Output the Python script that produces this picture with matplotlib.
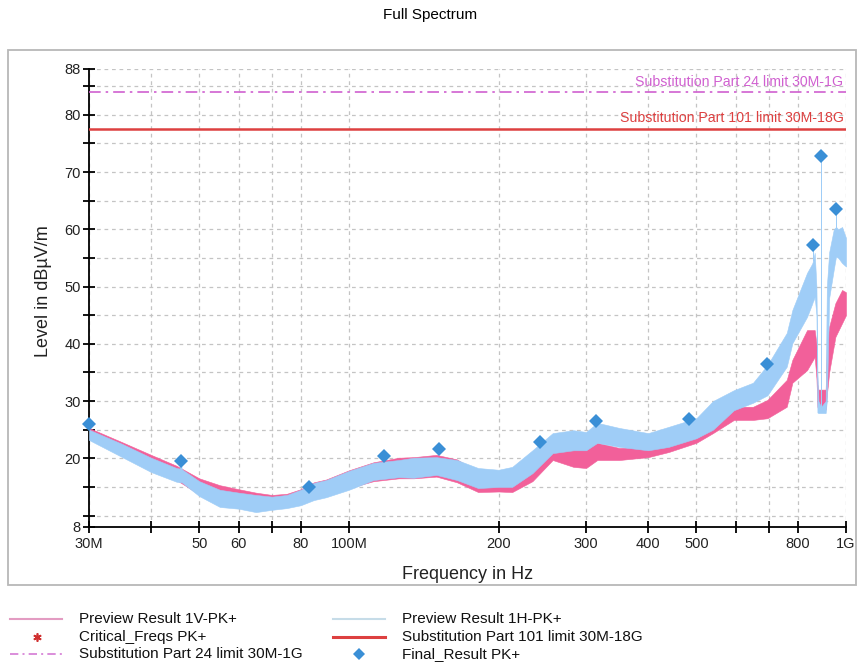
import matplotlib
matplotlib.use("Agg")
import matplotlib.pyplot as plt
from matplotlib.lines import Line2D
from matplotlib.patches import Rectangle
from matplotlib.ticker import FixedLocator, NullFormatter, NullLocator

plt.rcParams["font.family"] = ["Liberation Sans", "DejaVu Sans"]

# ---- measurement data (frequency in MHz, level in dBuV/m) ----
freq_h = [30, 35, 40, 45, 45.7, 45.9, 46.1, 50, 55, 60, 65, 70, 75, 80, 85, 90,
          100, 112, 126, 135, 150, 165, 182, 200, 213, 234, 257, 283, 300, 316,
          350, 400, 440, 500, 540, 595, 650, 695, 760, 780, 835, 855, 858.5,
          859, 859.5, 865, 872, 876, 880, 890.5, 891, 891.5, 910, 915, 925,
          945, 954.5, 955, 955.5, 965, 982, 1000]
h_high = [25.0, 22.5, 20.1, 18.3, 18.2, 19.5, 18.1, 16.0, 14.5, 14.0, 13.6, 13.3,
          13.6, 14.5, 15.7, 16.2, 17.8, 19.2, 19.7, 20.1, 20.2, 19.7, 18.3, 18.0,
          18.5, 21.4, 24.4, 24.9, 24.6, 26.2, 25.3, 24.4, 25.5, 27.0, 30.0, 31.9,
          33.2, 36.3, 41.9, 45.9, 52.4, 54.0, 54.5, 57.3, 54.5, 55.9, 50.0, 35.0,
          30.0, 29.0, 72.8, 29.0, 30.0, 50.0, 56.0, 60.0, 60.4, 63.5, 60.4, 60.0,
          60.4, 58.5]
h_low = [23.2, 20.2, 17.6, 15.9, 15.8, 15.8, 15.8, 13.4, 11.5, 11.2, 10.6, 11.0,
         11.3, 11.8, 12.7, 13.2, 14.5, 16.2, 16.7, 16.6, 17.1, 16.2, 14.8, 15.0,
         15.0, 17.4, 20.9, 21.4, 21.4, 22.7, 22.0, 21.4, 22.0, 23.5, 25.0, 28.4,
         29.7, 31.0, 36.0, 40.1, 44.7, 47.0, 47.5, 47.5, 47.5, 48.2, 45.0, 28.0,
         27.9, 27.9, 27.9, 27.9, 27.9, 30.0, 48.0, 53.0, 55.2, 55.2, 55.2, 55.0,
         54.1, 53.5]

freq_v = [30, 35, 40, 45, 50, 55, 60, 65, 70, 75, 80, 85, 90, 100, 112, 126, 135,
          150, 165, 182, 200, 213, 234, 257, 283, 300, 316, 350, 400, 440, 500,
          540, 595, 650, 695, 760, 780, 835, 865, 872, 876, 880, 910, 915, 925,
          952, 982, 1000]
v_high = [25.3, 22.8, 20.6, 18.7, 16.5, 15.3, 14.6, 14.0, 13.6, 13.8, 14.6, 15.8,
          16.3, 17.9, 19.3, 20.1, 20.2, 20.6, 19.8, 17.5, 17.5, 17.5, 19.5, 22.0,
          22.0, 22.0, 22.7, 21.8, 22.0, 23.2, 24.4, 27.2, 29.0, 29.0, 30.2, 33.7,
          37.2, 42.4, 42.4, 40.0, 33.0, 32.0, 32.0, 40.0, 43.0, 47.1, 49.4, 49.0]
v_low = [23.5, 20.5, 17.9, 16.2, 13.7, 11.8, 11.5, 11.0, 11.3, 11.6, 12.1, 13.0,
         13.5, 14.8, 16.0, 16.5, 16.5, 16.8, 15.8, 14.1, 14.2, 14.1, 16.0, 19.7,
         18.5, 18.3, 19.7, 19.7, 20.2, 21.1, 22.7, 24.4, 26.7, 26.7, 27.0, 29.0,
         33.2, 35.4, 37.7, 34.0, 29.0, 28.5, 28.5, 31.0, 35.0, 41.2, 43.6, 45.0]

final_freq = [30, 45.9, 83.1, 117.7, 151.8, 242, 314, 483, 694, 859, 891, 955]
final_level = [26.0, 19.5, 15.0, 20.4, 21.6, 22.8, 26.5, 26.9, 36.5, 57.3, 72.8, 63.5]

limit_part24 = 84.0
limit_part101 = 77.5
limit_start, limit_stop = 30, 1000

x_ticks = [30, 40, 50, 60, 70, 80, 100, 200, 300, 400, 500, 600, 700, 800, 1000]
x_labels = ["30M", "", "50", "60", "", "80", "100M", "200", "300", "400", "500",
            "", "", "800", "1G"]
y_major = [8, 20, 30, 40, 50, 60, 70, 80, 88]
y_minor = [10, 15, 25, 35, 45, 55, 65, 75, 85]

# ---- colours ----
c_v = "#f2609a"
c_h = "#9fcdf7"
c_final = "#3a8fd6"
c_p101 = "#dd4040"
c_p24 = "#d060d0"
c_grid = "#c4c4c4"

W, H = 858, 666
fig = plt.figure(figsize=(W / 100, H / 100), dpi=100)
ax = fig.add_axes([89 / W, 1 - 527 / H, (846 - 89) / W, (527 - 69) / H])

# outer panel frame
fig.add_artist(Rectangle((8 / W, 1 - 585 / H), (856 - 8) / W, (585 - 50) / H,
                         transform=fig.transFigure, fill=False,
                         edgecolor="#b8b8b8", linewidth=1.3))

ax.set_xscale("log")
ax.set_xlim(30, 1000)
ax.set_ylim(8, 88)

# spectrum traces
ax.fill_between(freq_v, v_low, v_high, color=c_v, linewidth=0.4, zorder=2)
ax.fill_between(freq_h, h_low, h_high, color=c_h, linewidth=0.4, zorder=3)

# limit lines
ax.plot([limit_start, limit_stop], [limit_part24] * 2, color=c_p24,
        linewidth=1.2, dashes=(7, 3, 1.5, 3), zorder=4)
ax.plot([limit_start, limit_stop], [limit_part101] * 2, color=c_p101,
        linewidth=1.8, zorder=4)
ax.text(988, limit_part24 + 0.5, "Substitution Part 24 limit 30M-1G",
        color=c_p24, fontsize=10.2, ha="right", va="bottom", zorder=5)
ax.text(988, limit_part101 + 0.7, "Substitution Part 101 limit 30M-18G",
        color=c_p101, fontsize=10.2, ha="right", va="bottom", zorder=5)

# final results
ax.plot(final_freq, final_level, linestyle="none", marker="D", markersize=7.5,
        color=c_final, markeredgewidth=0, zorder=6, clip_on=False)

# axes styling
ax.xaxis.set_major_locator(FixedLocator(x_ticks))
ax.xaxis.set_minor_locator(NullLocator())
ax.set_xticklabels(x_labels)
ax.xaxis.set_minor_formatter(NullFormatter())
ax.yaxis.set_major_locator(FixedLocator(y_major))
ax.yaxis.set_minor_locator(FixedLocator(y_minor))
ax.tick_params(which="both", direction="inout", length=8, width=1.3,
               color="black", labelsize=10.5, labelcolor="#222222")
ax.tick_params(axis="x", pad=3)
ax.tick_params(axis="y", pad=2)
for s in ("top", "right"):
    ax.spines[s].set_visible(False)
for s in ("left", "bottom"):
    ax.spines[s].set_linewidth(1.3)
ax.grid(True, which="both", color=c_grid, linestyle=(0, (3, 3)), linewidth=0.9)
ax.set_axisbelow(True)

ax.set_xlabel("Frequency in Hz", fontsize=13, color="#222222")
ax.xaxis.set_label_coords(0.5, -0.085)
ax.set_ylabel("Level in dBµV/m", fontsize=13, color="#222222")
ax.yaxis.set_label_coords(-0.049, 0.515)

fig.text(430 / W, 1 - 15 / H, "Full Spectrum", ha="center", va="center",
         fontsize=11,
         family=["Liberation Sans Narrow", "DejaVu Sans Condensed", "Liberation Sans"])

# legend rows
def fx(px):
    return px / W

def fy(py):
    return 1 - py / H

rows = [619, 637, 654]
col1_text, col2_text = 79, 402
fig.add_artist(Line2D([fx(10), fx(62)], [fy(rows[0])] * 2, color="#e39cc2", lw=1.5))
fig.add_artist(Line2D([fx(37)], [fy(rows[1])], marker=(6, 2, 0), markersize=6,
                      color="#d03030", mew=1.2, linestyle="none"))
fig.add_artist(Line2D([fx(10), fx(62)], [fy(rows[2])] * 2, color="#d47ad4", lw=1.2,
                      dashes=(5, 2.5, 1.2, 2.5)))
fig.add_artist(Line2D([fx(333), fx(385)], [fy(rows[0])] * 2, color="#c6dce8", lw=1.5))
fig.add_artist(Line2D([fx(333), fx(385)], [fy(rows[1])] * 2, color=c_p101, lw=2.2))
fig.add_artist(Line2D([fx(359)], [fy(rows[2])], marker="D", markersize=6.5,
                      color=c_final, mew=0, linestyle="none"))
legend_left = ["Preview Result 1V-PK+", "Critical_Freqs PK+",
               "Substitution Part 24 limit 30M-1G"]
legend_right = ["Preview Result 1H-PK+", "Substitution Part 101 limit 30M-18G",
                "Final_Result PK+"]
for r, t in zip(rows, legend_left):
    fig.text(fx(col1_text), fy(r), t, fontsize=11, va="center", ha="left", color="#111111")
for r, t in zip(rows, legend_right):
    fig.text(fx(col2_text), fy(r), t, fontsize=11, va="center", ha="left", color="#111111")

fig.savefig("out.png", dpi=100)
